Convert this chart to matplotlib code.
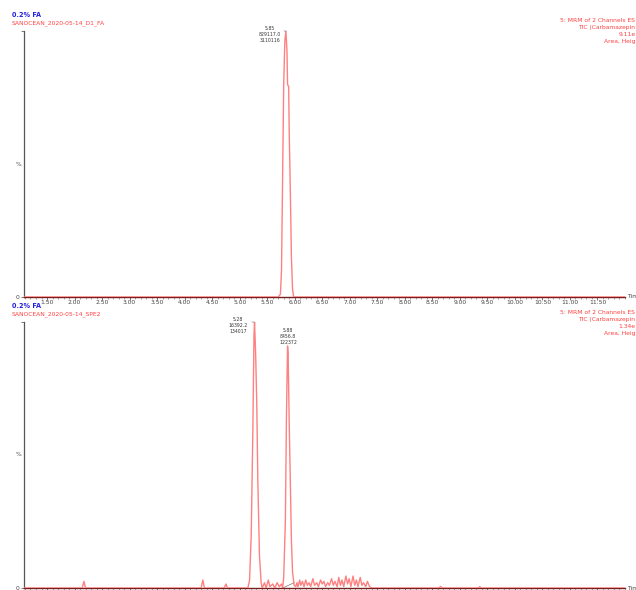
import matplotlib
matplotlib.use("Agg")
import matplotlib.pyplot as plt

# traza superior (D1_FA)
tiempos_sup = [1.08, 5.70, 5.74, 5.76, 5.78, 5.80, 5.82, 5.84, 5.86, 5.87, 5.89, 5.90, 5.92, 5.94, 5.96, 5.98, 12.03]
intens_sup = [0, 0, 1, 10, 45, 80, 96, 100, 92, 80, 79, 62, 40, 15, 3, 0, 0]

# traza inferior (SPE2)
tiempos_inf = [1.08, 2.14, 2.17, 2.20, 4.30, 4.33, 4.36, 4.72, 4.75, 4.78,
               5.15, 5.18, 5.21, 5.24, 5.26, 5.27, 5.29, 5.31, 5.33, 5.36, 5.39, 5.41,
               5.45, 5.48, 5.52, 5.55, 5.60, 5.64, 5.68, 5.72, 5.76,
               5.78, 5.80, 5.83, 5.85, 5.87, 5.88, 5.89, 5.90, 5.92, 5.94, 5.96, 5.99,
               6.02, 6.04, 6.06, 6.09, 6.11, 6.14, 6.17, 6.20, 6.23, 6.26, 6.29, 6.33,
               6.36, 6.40, 6.43, 6.47, 6.50, 6.53, 6.56, 6.60, 6.63, 6.67, 6.70, 6.73,
               6.77, 6.80, 6.83, 6.86, 6.89, 6.93, 6.96, 6.99, 7.02, 7.06, 7.09, 7.12,
               7.15, 7.19, 7.22, 7.25, 7.29, 7.32, 7.36, 7.40,
               8.62, 8.65, 8.68, 9.33, 9.36, 9.39, 12.03]
intens_inf = [0, 0, 2.5, 0, 0, 3, 0, 0, 1.5, 0,
              0, 3, 20, 60, 95, 100, 88, 70, 40, 12, 2, 0,
              2, 0, 3, 0.5, 1.5, 0, 2, 0.5, 1.5,
              0, 4, 25, 65, 91, 88, 75, 62, 40, 18, 6, 1,
              0.5, 2, 0.5, 3, 1, 2.5, 0.5, 3, 1, 2, 0.5, 3.5,
              1, 2, 0.5, 3, 1.5, 2.5, 0.5, 2, 1, 3.5, 1, 2.5,
              0.5, 4, 1, 3, 0.5, 4.5, 1.5, 3.5, 0.5, 4.5, 1, 3,
              0.5, 4, 1, 2, 0.5, 2.5, 0.5, 0,
              0, 0.6, 0, 0, 0.5, 0, 0]

picos_sup = [(5.85, 100, "5.85\n829117.0\n3110116", "izq")]
picos_inf = [(5.27, 100, "5.28\n16392.2\n134017", "izq"),
             (5.88, 91, "5.88\n8456.8\n122372", "arriba")]

linea_base_inf = ([5.78, 5.99], [0, 2])

marcas = [1.5 + 0.5 * i for i in range(21)]
etiquetas = ["%.2f" % m for m in marcas]

rojo = "#ff8080"

fig = plt.figure(figsize=(6.36, 5.90), dpi=100)


def panel(ax, tiempos, intens, picos, cab1, cab2, derecha, base=None):
    ax.plot(tiempos, intens, color=rojo, lw=1.0, zorder=3)
    if base:
        ax.plot(base[0], base[1], color="#777777", lw=0.5, zorder=2)
    ax.set_xlim(1.082, 12.0)
    ax.set_ylim(0, 100)
    ax.spines["top"].set_visible(False)
    ax.spines["right"].set_visible(False)
    ax.spines["left"].set_color("#555555")
    ax.spines["bottom"].set_color("#7a1f1f")
    ax.spines["left"].set_linewidth(0.9)
    ax.spines["bottom"].set_linewidth(1.0)
    ax.set_xticks(marcas)
    ax.set_xticklabels(etiquetas)
    ax.set_xticks([1.1 + 0.1 * i for i in range(110)], minor=True)
    ax.tick_params(axis="x", which="major", length=2.5, width=0.5, pad=0,
                   labelsize=4.3, colors="#444444")
    ax.tick_params(axis="x", which="minor", length=1.5, width=0.4, colors="#666666")
    ax.set_yticks([0, 100])
    ax.set_yticklabels(["0", ""])
    ax.tick_params(axis="y", length=2, width=0.5, pad=1, labelsize=4.3, colors="#444444")
    ax.text(-0.004, 0.5, "%", transform=ax.transAxes, ha="right", va="center",
            fontsize=4.3, color="#444444")
    ax.text(1.004, 0.0, "Time", transform=ax.transAxes, ha="left", va="center",
            fontsize=4.3, color="#444444", clip_on=False)
    for rt, h, txt, modo in picos:
        if modo == "izq":
            ax.annotate(txt, xy=(rt, h), xytext=(-12, -2.5), textcoords="offset points",
                        ha="center", va="center", fontsize=3.3, color="#333333",
                        linespacing=1.25, annotation_clip=False)
            ax.annotate("", xy=(rt, h), xytext=(-4, 0), textcoords="offset points",
                        arrowprops=dict(arrowstyle="-", color="#777777", lw=0.4),
                        annotation_clip=False)
        else:
            ax.annotate(txt, xy=(rt, h), xytext=(0, 1), textcoords="offset points",
                        ha="center", va="bottom", fontsize=3.3, color="#333333",
                        linespacing=1.25, annotation_clip=False)
    pos = ax.get_position()
    fig.text(12 / 636, pos.y1 + 16 / 590, cab1, fontsize=4.7, fontweight="bold",
             color="#2020e0", ha="left", va="center")
    fig.text(12 / 636, pos.y1 + 8 / 590, cab2, fontsize=4.3, color="#ff4040",
             ha="left", va="center")
    for i, linea in enumerate(derecha):
        fig.text(0.999, pos.y1 + (10 - 7 * i) / 590, linea, fontsize=4.3,
                 color="#ff4040", ha="right", va="center")


ax1 = fig.add_axes([24 / 636, 293 / 590, 601 / 636, 266 / 590])
ax2 = fig.add_axes([24 / 636, 2 / 590, 601 / 636, 266 / 590])

panel(ax1, tiempos_sup, intens_sup, picos_sup, "0.2% FA", "SANOCEAN_2020-05-14_D1_FA",
      ["5: MRM of 2 Channels ES", "TIC (Carbamazepin", "9.11e", "Area, Heig"],
      base=([5.74, 5.98], [0, 0]))
panel(ax2, tiempos_inf, intens_inf, picos_inf, "0.2% FA", "SANOCEAN_2020-05-14_SPE2",
      ["5: MRM of 2 Channels ES", "TIC (Carbamazepin", "1.34e", "Area, Heig"],
      base=linea_base_inf)

fig.savefig("out.png", dpi=100)
